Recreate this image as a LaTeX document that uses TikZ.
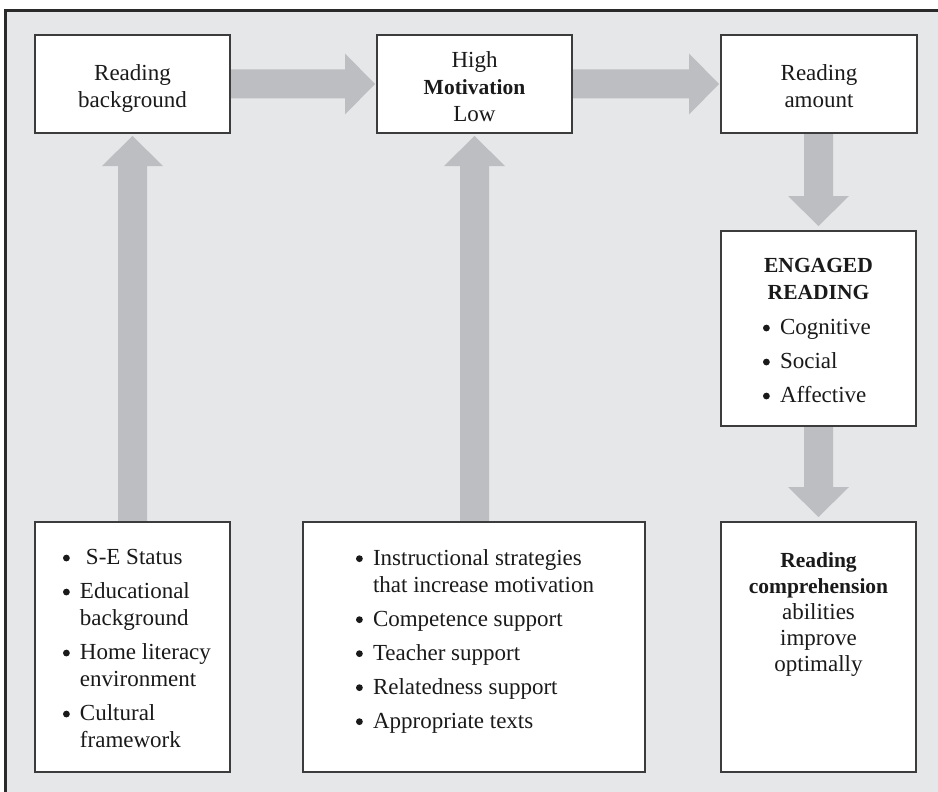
\documentclass[tikz,border=0pt]{standalone}
\usepackage{fontspec}
\setmainfont{Liberation Serif}
\usetikzlibrary{calc,backgrounds}

\definecolor{panel}{HTML}{E6E7E8}
\definecolor{shaft}{HTML}{BDBEC1}
\definecolor{edge}{HTML}{3C3C3C}
\definecolor{frameline}{HTML}{2A2A2A}
\definecolor{ink}{HTML}{1A1A1A}

\newcommand{\bodyfont}{\fontsize{23}{27}\selectfont}
\newcommand{\heavy}[1]{{\fontsize{21.5}{27}\selectfont\bfseries #1}}
% round list bullet, drawn as a small filled disc sitting on the baseline
\newcommand{\disc}{\tikz[baseline=0pt]\fill[ink] (3.6pt,6.6pt) circle[radius=3.4pt];}
\newcommand{\itembullet}[1][17pt]{\makebox[#1][l]{\disc}}
\newcommand{\hang}{\hspace*{17pt}}

% block arrow pointing right, from the east side of #1 to the west side of #2
\newcommand{\rightblock}[2]{%
  \fill[shaft] ($(#1.east)+(0,-14.5)$) -- ($(#2.west)+(-32,-14.5)$)
    -- ($(#2.west)+(-32,-30.5)$) -- ($(#2.west)+(-2,0)$)
    -- ($(#2.west)+(-32,30.5)$) -- ($(#2.west)+(-32,14.5)$)
    -- ($(#1.east)+(0,14.5)$) -- cycle;}
% block arrow pointing up, from the north side of #1 to the south side of #2
\newcommand{\upblock}[2]{%
  \fill[shaft] ($(#1.north -| #2.south)+(-14.5,0)$) -- ($(#2.south)+(-14.5,33)$)
    -- ($(#2.south)+(-30.5,33)$) -- ($(#2.south)+(0,3)$)
    -- ($(#2.south)+(30.5,33)$) -- ($(#2.south)+(14.5,33)$)
    -- ($(#1.north -| #2.south)+(14.5,0)$) -- cycle;}
% block arrow pointing down, from the south side of #1 to the north side of #2
\newcommand{\downblock}[2]{%
  \fill[shaft] ($(#1.south -| #2.north)+(-14.5,0)$) -- ($(#2.north)+(-14.5,-35)$)
    -- ($(#2.north)+(-30.5,-35)$) -- ($(#2.north)+(0,-5)$)
    -- ($(#2.north)+(30.5,-35)$) -- ($(#2.north)+(14.5,-35)$)
    -- ($(#1.south -| #2.north)+(14.5,0)$) -- cycle;}

\begin{document}
\begin{tikzpicture}[x=1pt,y=-1pt,
  box/.style={draw=edge, line width=1.5pt, fill=white, rectangle,
              inner sep=0pt, outer sep=0pt},
  txt/.style={inner sep=0pt, outer sep=0pt, font=\bodyfont, text=ink}]

\useasboundingbox (0,0) rectangle (938,792);

% boxes
\node[box, minimum width=195pt, minimum height=98pt]  (bg)   at (132.5,84)  {};
\node[box, minimum width=195pt, minimum height=98pt]  (mot)  at (474.5,84)  {};
\node[box, minimum width=196pt, minimum height=98pt]  (amt)  at (819,84)    {};
\node[box, minimum width=195pt, minimum height=195pt] (eng)  at (818.5,328.5) {};
\node[box, minimum width=195pt, minimum height=250pt] (fam)  at (132.5,647) {};
\node[box, minimum width=342pt, minimum height=250pt] (ins)  at (474,647)   {};
\node[box, minimum width=195pt, minimum height=250pt] (comp) at (818.5,647) {};

% texts
\node[txt, anchor=north, align=center] (bgtext) at (132.5,64.3)
  {Reading\\background};
\node[txt, anchor=north, align=center] (mottext) at (474.5,51.3)
  {High\\\heavy{Motivation}\\Low};
\node[txt, anchor=north, align=center] (amttext) at (819,64.3)
  {Reading\\amount};
\node[txt, anchor=north, align=center] (engtitle) at (818.5,258.7)
  {\heavy{ENGAGED}\\\heavy{READING}};
\node[txt, anchor=north west, align=left] (englist) at (763,319.4)
  {\itembullet Cognitive\\[7pt]\itembullet Social\\[7pt]\itembullet Affective};
\node[txt, anchor=north west, align=left] (famlist) at (63,549.4)
  {\itembullet[23pt]S-E Status\\[7pt]
   \itembullet Educational\\\hang background\\[7pt]
   \itembullet Home literacy\\\hang environment\\[7pt]
   \itembullet Cultural\\\hang framework};
\node[txt, anchor=north west, align=left] (inslist) at (356,549.3)
  {\itembullet Instructional strategies\\\hang that increase motivation\\[7pt]
   \itembullet Competence support\\[7pt]
   \itembullet Teacher support\\[7pt]
   \itembullet Relatedness support\\[7pt]
   \itembullet Appropriate texts};
\node[txt, anchor=north, align=center, font=\fontsize{23}{26}\selectfont] (comptext) at (818.5,552.5)
  {{\fontsize{21.5}{26}\selectfont\bfseries Reading}\\
   {\fontsize{21.5}{26}\selectfont\bfseries comprehension}\\
   abilities\\improve\\optimally};

\begin{pgfonlayer}{background}
  \fill[white] (0,0) rectangle (938,792);
  \fill[panel] (5,10) rectangle (938,792);
  \draw[frameline, line width=2.5pt] (5.3,792) -- (5.3,10.3) -- (938,10.3);
  % connectors
  \rightblock{bg}{mot}
  \rightblock{mot}{amt}
  \upblock{fam}{bg}
  \upblock{ins}{mot}
  \downblock{amt}{eng}
  \downblock{eng}{comp}
\end{pgfonlayer}
\end{tikzpicture}
\end{document}
